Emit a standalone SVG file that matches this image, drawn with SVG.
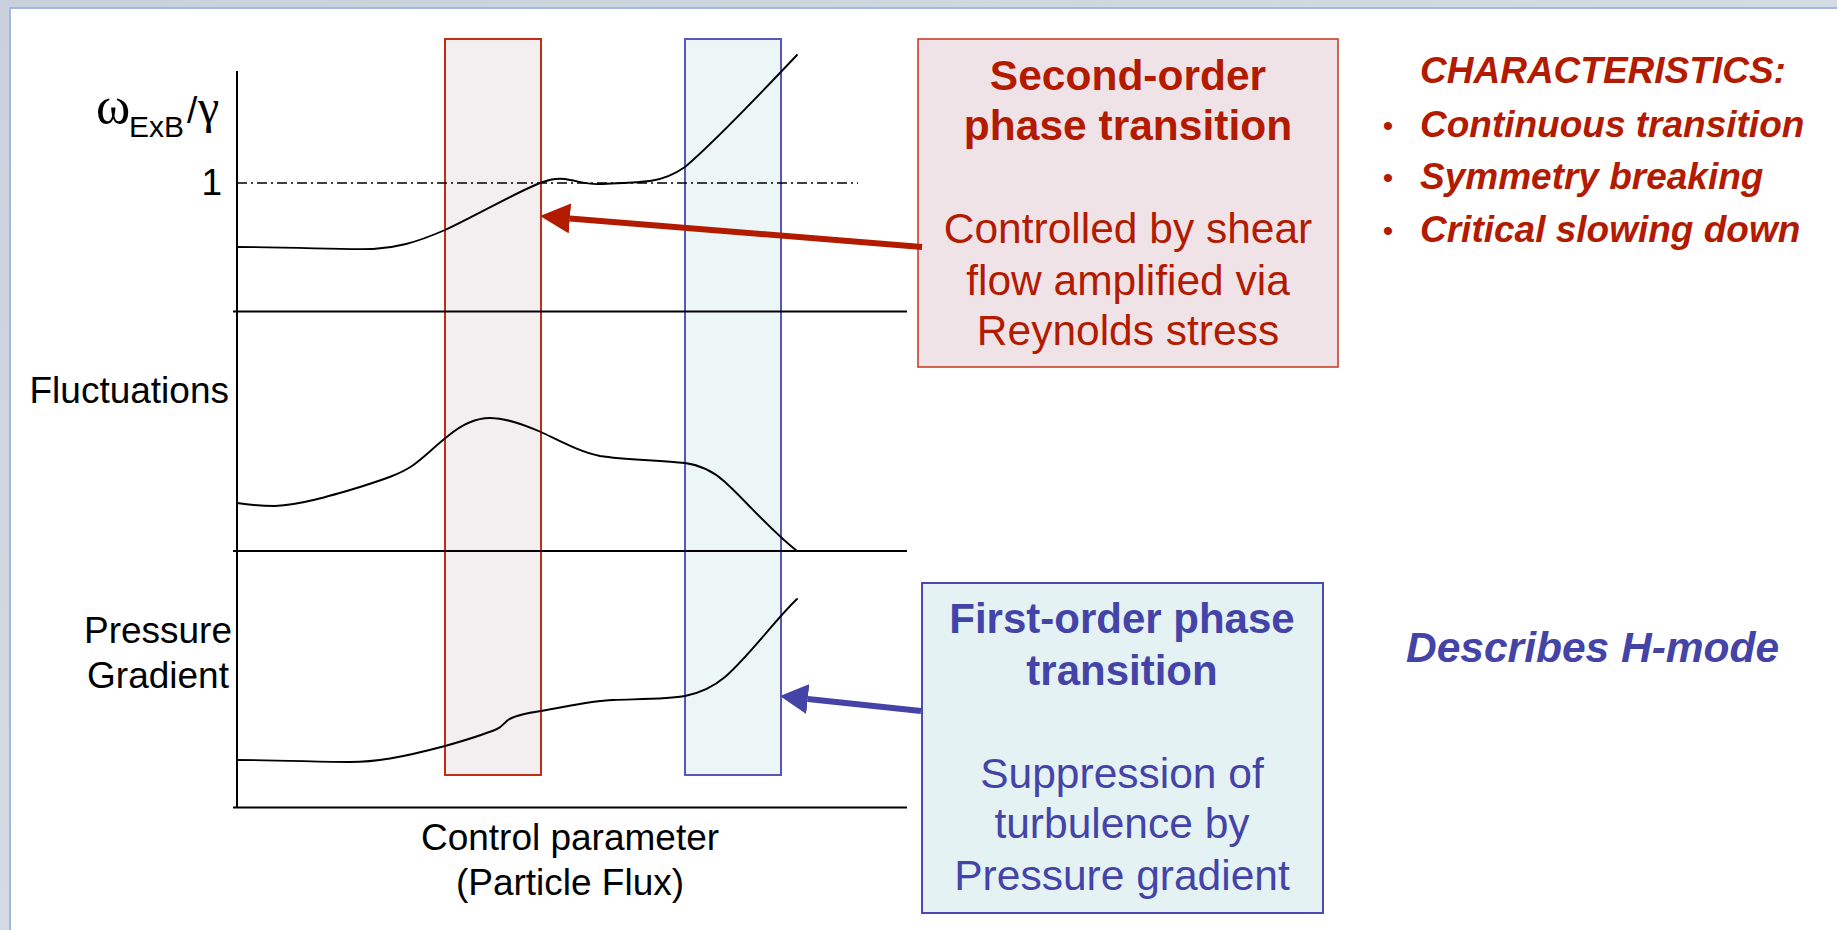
<svg xmlns="http://www.w3.org/2000/svg" width="1837" height="930" viewBox="0 0 1837 930">
  <defs>
    <linearGradient id="bg" x1="0" y1="0" x2="1" y2="1">
      <stop offset="0" stop-color="#c9d2dc"/>
      <stop offset="0.5" stop-color="#d3dce4"/>
      <stop offset="1" stop-color="#c4d0dc"/>
    </linearGradient>
    <marker id="ahRed" markerUnits="userSpaceOnUse" markerWidth="30" markerHeight="30" refX="0" refY="15" orient="auto" viewBox="0 0 30 30">
      <path d="M0,0 L30,15 L0,30 z" fill="#b31b00"/>
    </marker>
    <marker id="ahBlue" markerUnits="userSpaceOnUse" markerWidth="28" markerHeight="30" refX="0" refY="15" orient="auto" viewBox="0 0 28 30">
      <path d="M0,0 L28,15 L0,30 z" fill="#4444a8"/>
    </marker>
    <style>
      text { font-family: "Liberation Sans", Arial, sans-serif; }
      .lbl { font-size: 37px; fill: #000; }
      .curve { fill: none; stroke: #000; stroke-width: 1.9; stroke-linecap: round; stroke-linejoin: round; }
      .axis { stroke: #000; stroke-width: 2; fill: none; }
      .red { fill: #b31b00; }
      .blue { fill: #4444a8; }
      .bold { font-weight: bold; }
      .bi { font-weight: bold; font-style: italic; }
    </style>
  </defs>

  <!-- background frame -->
  <rect x="0" y="0" width="1837" height="930" fill="url(#bg)"/>
  <rect x="10" y="8" width="1840" height="940" fill="#ffffff" stroke="#a4b8dc" stroke-width="2"/>

  <!-- transition bands -->
  <g id="band-second-order">
    <rect x="445" y="39" width="96" height="736" fill="#f3eef0" stroke="#c02e16" stroke-width="2"/>
  </g>
  <g id="band-first-order">
    <rect x="685" y="39" width="96" height="736" fill="#edf6f7" stroke="#5656bc" stroke-width="2"/>
  </g>

  <!-- axes -->
  <g id="axes">
    <line class="axis" x1="237" y1="71" x2="237" y2="808"/>
    <line class="axis" x1="233" y1="311.5" x2="907" y2="311.5"/>
    <line class="axis" x1="233" y1="551" x2="907" y2="551"/>
    <line class="axis" x1="233" y1="807.5" x2="907" y2="807.5"/>
    <line x1="237" y1="183" x2="858" y2="183" stroke="#000" stroke-width="1.6" stroke-dasharray="10 4 2 4"/>
  </g>

  <!-- curves -->
  <g id="curve-exb">
    <path class="curve" d="M237,247 C300,247 340,250 373,249 C395,248 415,243 445,230 C475,216 515,193 540,183 C550,179 557,178 565,179 C578,181 588,185 600,184 C615,183 635,183 650,181 C665,179 675,174 685,167 C705,150 745,110 797,55"/>
  </g>
  <g id="curve-fluctuations">
    <path class="curve" d="M237,503 C250,505 262,506 275,506 C300,505 330,496 360,487 C385,479 400,474 412,466 C425,457 435,446 448,436 C460,426 475,418 490,418 C505,418 520,423 541,432 C560,441 580,452 600,456 C625,460 660,460 685,463 C700,465 712,470 725,482 C745,500 770,530 797,551"/>
  </g>
  <g id="curve-pressure">
    <path class="curve" d="M237,760 C280,760 320,762 350,762 C375,762 400,758 445,746 C470,739 485,734 497,729 C502,727 504,723 508,720 C515,715 528,713 541,711 C570,706 590,701 613,700 C640,699 670,699 685,696 C700,693 712,688 725,677 C750,655 775,620 797,599"/>
  </g>

  <!-- axis labels -->
  <g id="label-exb">
    <text class="lbl" y="123"><tspan x="96" font-family="Liberation Serif, serif" font-size="52">ω</tspan><tspan x="129" y="137" font-size="30">ExB</tspan><tspan x="187" y="123">/</tspan><tspan x="198" font-family="Liberation Serif, serif" font-size="48">γ</tspan></text>
    <text class="lbl" x="222" y="195" text-anchor="end">1</text>
  </g>
  <g id="label-fluctuations">
    <text class="lbl" x="229" y="403" text-anchor="end">Fluctuations</text>
  </g>
  <g id="label-pressure">
    <text class="lbl" x="158" y="643" text-anchor="middle">Pressure</text>
    <text class="lbl" x="158" y="688" text-anchor="middle">Gradient</text>
  </g>
  <g id="label-control">
    <text class="lbl" x="570" y="850" text-anchor="middle">Control parameter</text>
    <text class="lbl" x="570" y="895" text-anchor="middle">(Particle Flux)</text>
  </g>

  <!-- second-order box -->
  <g id="box-second-order">
    <rect x="918" y="39" width="420" height="328" fill="#efe3e8" stroke="#c8402a" stroke-width="1.6"/>
    <text class="red bold" font-size="42.5" x="1128" y="90" text-anchor="middle">Second-order</text>
    <text class="red bold" font-size="42.5" x="1128" y="140" text-anchor="middle">phase transition</text>
    <text class="red" font-size="42.5" x="1128" y="243" text-anchor="middle">Controlled by shear</text>
    <text class="red" font-size="42.5" x="1128" y="295" text-anchor="middle">flow amplified via</text>
    <text class="red" font-size="42.5" x="1128" y="345" text-anchor="middle">Reynolds stress</text>
  </g>

  <!-- first-order box -->
  <g id="box-first-order">
    <rect x="922" y="583" width="401" height="330" fill="#e4f2f4" stroke="#4a4ab0" stroke-width="2"/>
    <text class="blue bold" font-size="42" x="1122" y="633" text-anchor="middle">First-order phase</text>
    <text class="blue bold" font-size="42" x="1122" y="685" text-anchor="middle">transition</text>
    <text class="blue" font-size="42.5" x="1122" y="788" text-anchor="middle">Suppression of</text>
    <text class="blue" font-size="42.5" x="1122" y="838" text-anchor="middle">turbulence by</text>
    <text class="blue" font-size="42.5" x="1122" y="890" text-anchor="middle">Pressure gradient</text>
  </g>

  <!-- characteristics -->
  <g id="characteristics">
    <text class="red bi" font-size="37" x="1420" y="83">CHARACTERISTICS:</text>
    <text class="red" font-size="30" x="1388" y="136" text-anchor="middle">•</text>
    <text class="red bi" font-size="37" x="1420" y="137">Continuous transition</text>
    <text class="red" font-size="30" x="1388" y="188" text-anchor="middle">•</text>
    <text class="red bi" font-size="37" x="1420" y="189">Symmetry breaking</text>
    <text class="red" font-size="30" x="1388" y="241" text-anchor="middle">•</text>
    <text class="red bi" font-size="37" x="1420" y="242">Critical slowing down</text>
  </g>

  <g id="h-mode">
    <text class="blue bi" font-size="42.5" x="1406" y="662">Describes H-mode</text>
  </g>

  <!-- connectors -->
  <g id="connectors">
    <line x1="922" y1="247" x2="569.9" y2="218.4" stroke="#b31b00" stroke-width="6" marker-end="url(#ahRed)"/>
    <line x1="921" y1="711" x2="807.8" y2="699" stroke="#4444a8" stroke-width="6" marker-end="url(#ahBlue)"/>
  </g>
</svg>
